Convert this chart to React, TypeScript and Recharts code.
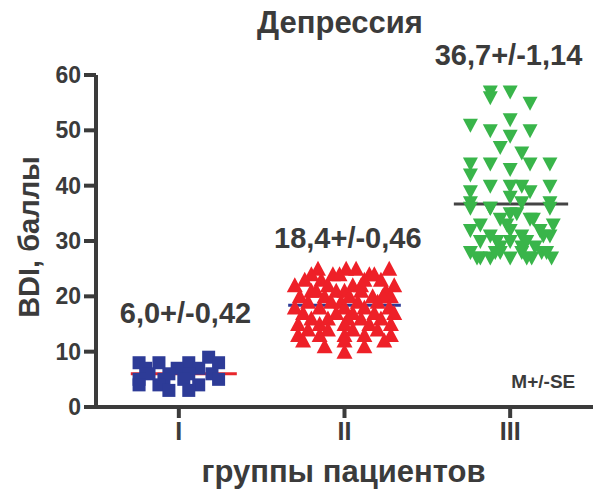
import { ScatterChart, Scatter, XAxis, YAxis, ReferenceLine, ReferenceDot } from 'recharts';

// group positions on the x axis and their roman labels
const groupTicks = [1, 2, 3];
const groupNames = ['I', 'II', 'III'];
const yTicks = [0, 10, 20, 30, 40, 50, 60];

// BDI scores per patient, with the horizontal jitter (in group units) used in the dot plot
const groupIScores = [9, 8, 8, 8, 8, 7, 7, 7, 6, 6, 6, 6, 5, 5, 5, 5, 4, 4, 4, 3, 3];
const groupIJitter = [0.18, -0.24, -0.12, 0.06, 0.24, -0.01, 0.12, -0.2, -0.18, -0.06, 0.06, 0.2, -0.24, -0.09, 0.03, 0.24, -0.24, -0.12, 0.12, -0.06, 0.06];

const groupIIScores = [
  25, 25, 25, 25, 24, 24, 24, 24, 24, 23, 23, 23, 23, 22, 22, 22, 22, 22, 21, 21, 21, 21, 21, 21,
  20, 20, 20, 20, 20, 20, 19, 19, 19, 19, 19, 18, 18, 18, 18, 18, 17, 17, 17, 17, 17,
  16, 16, 16, 16, 16, 15, 15, 15, 15, 15, 14, 14, 14, 14, 13, 13, 13, 13, 13, 12, 12, 12, 11, 11, 10,
];
const groupIIJitter = [
  -0.16, 0.01, 0.27, 0.07, -0.07, -0.03, 0.15, 0.18, -0.2, -0.24, -0.14, 0.12, 0.22, -0.3, -0.1, 0.05, 0.3, 0.1, -0.2, -0.05, 0.0, 0.1, 0.25, -0.17,
  -0.27, -0.12, 0.03, 0.17, 0.28, 0.23, -0.22, -0.08, -0.02, 0.08, 0.2, -0.3, -0.15, 0.0, 0.12, 0.27, -0.25, -0.05, 0.05, 0.18, 0.3,
  -0.2, -0.1, 0.02, 0.1, 0.22, -0.28, -0.15, 0.0, 0.15, 0.28, -0.22, -0.1, 0.05, 0.2, -0.28, -0.15, 0.0, 0.12, 0.28, -0.25, 0.24, 0.0, -0.12, 0.12, 0.0,
];

const groupIIIScores = [
  57, 57, 56, 55, 52, 51, 50, 50, 49, 47, 46, 44, 44, 43, 44, 44, 42, 40, 40, 40, 39, 40, 39, 38, 37, 37, 36, 37,
  36, 36, 36, 35, 34, 33, 34, 34, 33, 32, 31, 32, 31, 32, 31, 28, 27, 27, 28, 27, 28, 27, 28, 27, 29, 29, 30,
  27, 28, 30, 31, 33, 29, 30, 35, 27, 28, 30,
];
const groupIIIJitter = [
  -0.12, 0.0, -0.12, 0.12, 0.0, -0.24, -0.12, 0.12, 0.0, -0.06, 0.07, -0.24, -0.12, 0.0, 0.12, 0.24, -0.24, -0.12, 0.07, 0.24, -0.24, 0.0, 0.12, 0.0, 0.07, -0.24, -0.12, 0.24,
  -0.24, -0.12, 0.24, 0.0, 0.12, -0.18, -0.06, 0.14, 0.26, -0.24, -0.12, 0.0, 0.07, 0.18, 0.24, -0.24, -0.18, -0.12, -0.06, 0.0, 0.07, 0.13, 0.19, 0.25, -0.06, 0.07, 0.0,
  -0.2, 0.22, -0.18, 0.2, -0.02, 0.15, 0.1, 0.04, 0.1, -0.09, -0.08,
];

const groupMeans = [6.0, 18.4, 36.7];
const groupSE = [0.42, 0.46, 1.14];

const toPoints = (group: number, scores: number[], jitter: number[]) =>
  scores.map((y, i) => ({ x: group + jitter[i], y }));

const fmt = (v: number, d: number) => v.toFixed(d).replace('.', ',');
const meanLabel = (i: number) => `${fmt(groupMeans[i], 1)}+/-${fmt(groupSE[i], 2)}`;

const FONT = '"Liberation Sans", Arial, sans-serif';
const TEXT = '#3b3b3b';

const Square = (p: any) => <rect x={p.cx - 6.5} y={p.cy - 6.5} width={13} height={13} fill="#2d3b97" />;
const TriUp = (p: any) => (
  <polygon points={`${p.cx},${p.cy - 8} ${p.cx - 8},${p.cy + 7} ${p.cx + 8},${p.cy + 7}`} fill="#ee2028" />
);
const TriDown = (p: any) => (
  <polygon points={`${p.cx - 7.5},${p.cy - 6} ${p.cx + 7.5},${p.cy - 6} ${p.cx},${p.cy + 8}`} fill="#39b54a" />
);

const YTitle = ({ viewBox }: any) => {
  const cx = viewBox.x + 29;
  const cy = viewBox.y + viewBox.height / 2 - 4;
  return (
    <text x={cx} y={cy} transform={`rotate(-90, ${cx}, ${cy})`} textAnchor="middle" dominantBaseline="central"
      fontFamily={FONT} fontWeight="bold" fontSize={29} fill={TEXT}>
      BDI, баллы
    </text>
  );
};

const XTitle = ({ viewBox }: any) => (
  <text x={viewBox.x + viewBox.width / 2 - 1} y={viewBox.y + 64} textAnchor="middle" dominantBaseline="central"
    fontFamily={FONT} fontWeight="bold" fontSize={31} fill={TEXT}>
    группы пациентов
  </text>
);

const labelStyle = { fontFamily: FONT, fontWeight: 'bold', fontSize: 29, fill: TEXT };

export default function App() {
  return (
    <div style={{ position: 'relative', width: 596, height: 493, fontFamily: FONT }}>
      <style>{'body{margin:0}'}</style>
      <div style={{ position: 'absolute', left: 0, width: 680, top: 5, textAlign: 'center', fontSize: 31, fontWeight: 'bold', color: TEXT }}>
        Депрессия
      </div>
      <ScatterChart width={596} height={493} margin={{ top: 75, right: 3, left: 0, bottom: 0 }}>
        <XAxis type="number" dataKey="x" domain={[0.5, 3.5]} ticks={groupTicks} allowDataOverflow
          tickFormatter={(v: number) => groupNames[v - 1]} height={86} tickSize={11} tickMargin={4}
          axisLine={{ stroke: '#3b3b3b', strokeWidth: 4 }} tickLine={{ stroke: '#3b3b3b', strokeWidth: 4 }}
          tick={{ fontFamily: FONT, fontWeight: 'bold', fontSize: 25, fill: TEXT }}
          label={<XTitle />} />
        <YAxis type="number" dataKey="y" domain={[0, 60]} ticks={yTicks} width={96} tickSize={12} tickMargin={3}
          axisLine={{ stroke: '#3b3b3b', strokeWidth: 4 }} tickLine={{ stroke: '#3b3b3b', strokeWidth: 4 }}
          tick={{ fontFamily: FONT, fontWeight: 'bold', fontSize: 23, fill: TEXT }}
          label={<YTitle />} />
        <Scatter data={toPoints(1, groupIScores, groupIJitter)} shape={Square} isAnimationActive={false} />
        <Scatter data={toPoints(2, groupIIScores, groupIIJitter)} shape={TriUp} isAnimationActive={false} />
        <Scatter data={toPoints(3, groupIIIScores, groupIIIJitter)} shape={TriDown} isAnimationActive={false} />
        <ReferenceLine segment={[{ x: 0.71, y: groupMeans[0] }, { x: 1.35, y: groupMeans[0] }]} stroke="#e8262b" strokeWidth={3} />
        <ReferenceLine segment={[{ x: 1.66, y: groupMeans[1] }, { x: 2.34, y: groupMeans[1] }]} stroke="#2d3b97" strokeWidth={3} />
        <ReferenceLine segment={[{ x: 2.66, y: groupMeans[2] }, { x: 3.35, y: groupMeans[2] }]} stroke="#444444" strokeWidth={3} />
        <ReferenceDot x={1.04} y={17} r={0} ifOverflow="visible" label={{ value: meanLabel(0), position: 'center', ...labelStyle }} />
        <ReferenceDot x={2.02} y={30.6} r={0} ifOverflow="visible" label={{ value: meanLabel(1), position: 'center', ...labelStyle }} />
        <ReferenceDot x={2.99} y={63.7} r={0} ifOverflow="visible" label={{ value: meanLabel(2), position: 'center', ...labelStyle }} />
        <ReferenceDot x={3.2} y={4.7} r={0} ifOverflow="visible"
          label={{ value: 'M+/-SE', position: 'center', fontFamily: FONT, fontWeight: 'bold', fontSize: 19, fill: TEXT }} />
      </ScatterChart>
    </div>
  );
}
